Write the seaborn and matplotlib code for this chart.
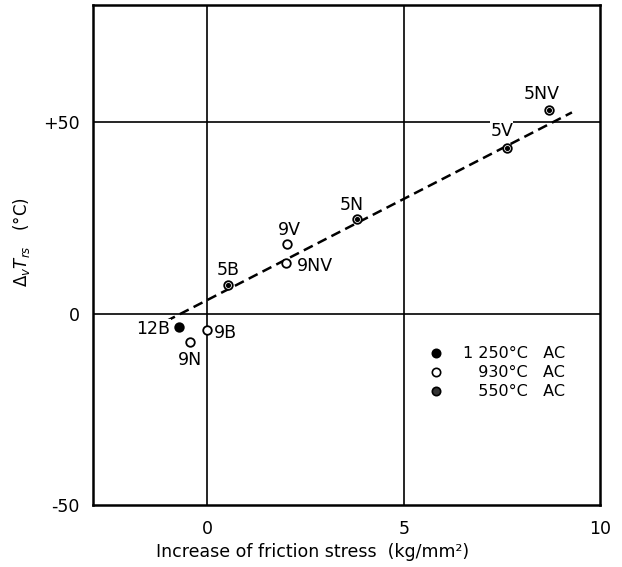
import matplotlib
matplotlib.use("Agg")
import matplotlib.pyplot as plt
from matplotlib.lines import Line2D
import seaborn as sns
import pandas as pd

# ---- data ----
labels = ["12B", "9N", "9B", "5B", "9V", "9NV", "5N", "5V", "5NV"]
friction = [-0.73, -0.43, 0.0, 0.52, 2.03, 2.01, 3.8, 7.62, 8.69]
delta_t = [-3.4, -7.4, -4.4, 7.5, 18.1, 13.2, 24.7, 43.3, 53.1]
treatment = ["1250", "930", "930", "550", "930", "930", "550", "550", "550"]
fit_x = [-1.05, 9.28]
fit_y = [-2.0, 52.5]
x_ticks = [0, 5, 10]
x_ticklabels = ["0", "5", "10"]
y_ticks = [-50, 0, 50]
y_ticklabels = ["-50", "0", "+50"]
legend_labels = ["1 250°C   AC", "\u2007 930°C   AC", "\u2007 550°C   AC"]

# label offsets (pixels) and alignments, style only
offsets = {"12B": (-8, -2, "right"), "9N": (0, -18, "center"), "9B": (7, -3, "left"),
           "5B": (0, 15, "center"), "9V": (2, 14, "center"), "9NV": (11, -3, "left"),
           "5N": (-5, 14, "center"), "5V": (-5, 17, "center"), "5NV": (-7, 16, "center")}

df = pd.DataFrame({"x": friction, "y": delta_t, "t": treatment, "lab": labels})
fit = pd.DataFrame({"x": fit_x, "y": fit_y})

sns.set_theme(style="white")
plt.rcParams["font.family"] = ["DejaVu Sans"]
plt.rcParams["text.color"] = "black"

fig = plt.figure(figsize=(6.22, 5.67), dpi=100)
ax = fig.add_axes([0.15, 0.109, 0.815, 0.882])

# grid lines
for gx in [0, 5]:
    ax.axvline(gx, color="black", lw=1.2, zorder=1)
for gy in [0, 50]:
    ax.axhline(gy, color="black", lw=1.2, zorder=1)

sns.lineplot(data=fit, x="x", y="y", ax=ax, color="black", lw=1.8,
             dashes=False, zorder=2).lines[-1].set_dashes((4, 2.2))

face = {"1250": "black", "930": "white", "550": "white"}
for t in ["1250", "930", "550"]:
    sub = df[df.t == t]
    sns.scatterplot(data=sub, x="x", y="y", ax=ax, s=38, color=face[t],
                    edgecolor="black", linewidth=1.3, zorder=4)
    if t == "550":
        sns.scatterplot(data=sub, x="x", y="y", ax=ax, s=14, color="black",
                        edgecolor="black", linewidth=0, zorder=5)

for _, r in df.iterrows():
    dx, dy, ha = offsets[r.lab]
    ax.annotate(r.lab, (r.x, r.y), xytext=(dx, dy), textcoords="offset pixels",
                ha=ha, va="center", fontsize=12.5, zorder=3, color="black",
                bbox=dict(facecolor="white", edgecolor="none", pad=0.3))

ax.set_xlim(-2.9, 10)
ax.set_ylim(-50, 80.5)
ax.set_xticks(x_ticks)
ax.set_xticklabels(x_ticklabels)
ax.set_yticks(y_ticks)
ax.set_yticklabels(y_ticklabels)
ax.tick_params(axis="both", length=0, labelsize=12.5, colors="black")
ax.tick_params(axis="y", pad=10)
ax.tick_params(axis="x", pad=11)
for sp in ax.spines.values():
    sp.set_color("black")
    sp.set_linewidth(1.8)

ax.set_xlabel("Increase of friction stress  (kg/mm²)", fontsize=12.5, color="black")
ax.xaxis.set_label_coords(0.432, -0.076)
ax.set_ylabel(r"$\Delta_{v}T_{rs}$   (°C)", fontsize=12, color="black")
ax.yaxis.set_label_coords(-0.12, 0.526)

h1 = Line2D([], [], ls="none", marker="o", ms=6, mfc="black", mec="black", mew=1.2)
h2 = Line2D([], [], ls="none", marker="o", ms=6, mfc="white", mec="black", mew=1.2)
h3 = Line2D([], [], ls="none", marker="o", ms=6, mfc="#333333", mec="black", mew=1.2)
leg = ax.legend([h1, h2, h3], legend_labels, loc="lower left",
                bbox_to_anchor=(0.635, 0.183), frameon=False, fontsize=11.5,
                handlelength=0.8, handletextpad=1.3, labelspacing=0.25)
for txt in leg.get_texts():
    txt.set_color("black")

fig.savefig("out.png", dpi=100, facecolor="white")
